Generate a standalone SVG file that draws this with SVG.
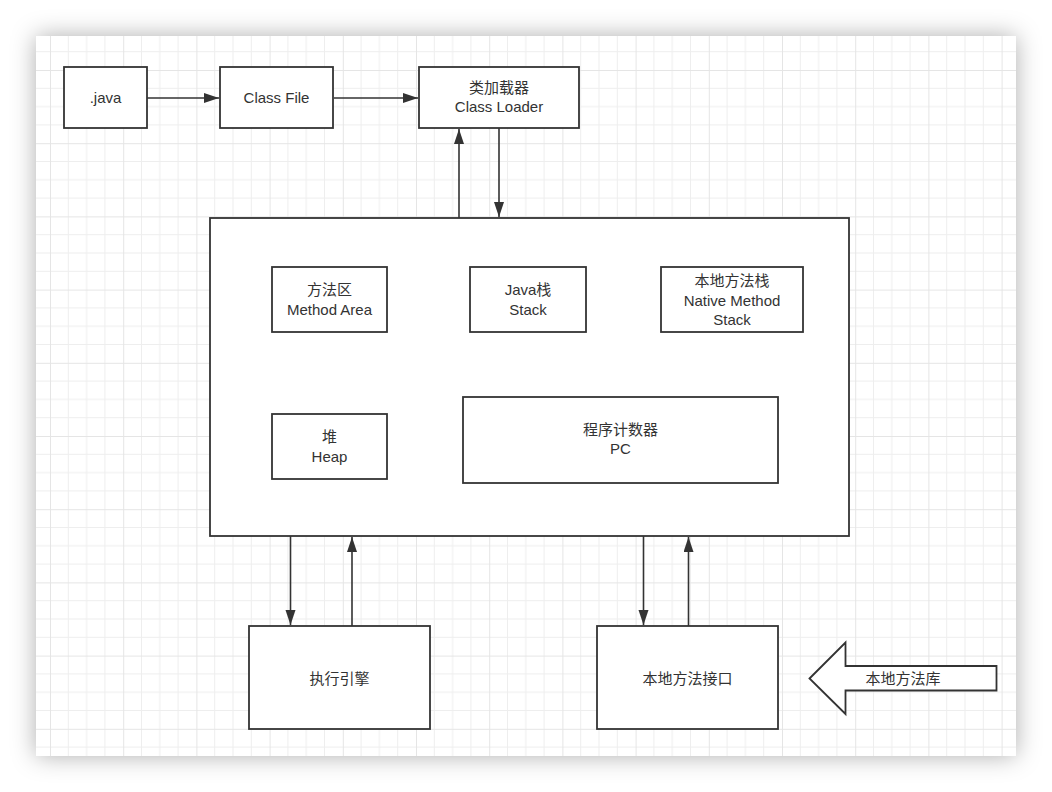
<svg xmlns="http://www.w3.org/2000/svg" width="1052" height="792" viewBox="0 0 1052 792">
<defs>
<style>
.box{fill:#fff;stroke:#333;stroke-width:1.8}
.conn{stroke:#333;stroke-width:1.6;fill:none}
.t{font-family:"Liberation Sans","Noto Sans CJK SC",sans-serif;font-size:15px;fill:#333;text-anchor:middle;dominant-baseline:central}
</style>
<filter id="sh" x="-10%" y="-10%" width="120%" height="120%">
<feDropShadow dx="0" dy="0" stdDeviation="12" flood-color="#000" flood-opacity="0.32"/>
</filter>
<pattern id="grid" patternUnits="userSpaceOnUse" x="50" y="70" width="73.2" height="73.2">
<path d="M18.3 0V73.2M36.6 0V73.2M54.9 0V73.2M0 18.3H73.2M0 36.6H73.2M0 54.9H73.2" stroke="#eeeeee" stroke-width="1"/>
<path d="M0 0V73.2M0 0H73.2" stroke="#e5e5e5" stroke-width="2"/>
</pattern>
<marker id="ah" markerUnits="userSpaceOnUse" markerWidth="16" markerHeight="12" refX="15" refY="5" orient="auto">
<path d="M0,0 L15,5 L0,10 z" fill="#333"/>
</marker>
</defs>
<rect width="1052" height="792" fill="#fff"/>
<rect x="36" y="36" width="980" height="720" fill="#fff" filter="url(#sh)"/>
<rect x="36" y="36" width="980" height="720" fill="url(#grid)"/>

<g id="connectors">
<line class="conn" x1="147" y1="98" x2="219" y2="98" marker-end="url(#ah)"/>
<line class="conn" x1="334" y1="98" x2="418" y2="98" marker-end="url(#ah)"/>
<line class="conn" x1="459" y1="218" x2="459" y2="129" marker-end="url(#ah)"/>
<line class="conn" x1="499" y1="128" x2="499" y2="217" marker-end="url(#ah)"/>
<line class="conn" x1="290.5" y1="536" x2="290.5" y2="625" marker-end="url(#ah)"/>
<line class="conn" x1="352" y1="626" x2="352" y2="537" marker-end="url(#ah)"/>
<line class="conn" x1="643.5" y1="536" x2="643.5" y2="625" marker-end="url(#ah)"/>
<line class="conn" x1="688.5" y1="626" x2="688.5" y2="537" marker-end="url(#ah)"/>
</g>

<g id="java"><rect class="box" x="64" y="67" width="83" height="61"/><text class="t" x="105.5" y="97">.java</text></g>
<g id="classfile"><rect class="box" x="220" y="67" width="113" height="61"/><text class="t" x="276.5" y="97">Class File</text></g>
<g id="classloader"><rect class="box" x="419" y="67" width="160" height="61"/><text class="t" x="499" y="87">类加载器</text><text class="t" x="499" y="106">Class Loader</text></g>

<g id="runtime"><rect class="box" x="210" y="218" width="639" height="318"/></g>
<g id="methodarea"><rect class="box" x="272" y="267" width="115" height="65"/><text class="t" x="329.5" y="289">方法区</text><text class="t" x="329.5" y="309">Method Area</text></g>
<g id="javastack"><rect class="box" x="470" y="267" width="116" height="65"/><text class="t" x="528" y="289">Java栈</text><text class="t" x="528" y="309">Stack</text></g>
<g id="nativestack"><rect class="box" x="661" y="267" width="142" height="65"/><text class="t" x="732" y="280">本地方法栈</text><text class="t" x="732" y="300">Native Method</text><text class="t" x="732" y="319">Stack</text></g>
<g id="heap"><rect class="box" x="272" y="414" width="115" height="65"/><text class="t" x="329.5" y="436">堆</text><text class="t" x="329.5" y="456">Heap</text></g>
<g id="pc"><rect class="box" x="463" y="397" width="315" height="86"/><text class="t" x="620.5" y="429">程序计数器</text><text class="t" x="620.5" y="448">PC</text></g>

<g id="engine"><rect class="box" x="249" y="626" width="181" height="103"/><text class="t" x="339.5" y="678">执行引擎</text></g>
<g id="nativeif"><rect class="box" x="597" y="626" width="181" height="103"/><text class="t" x="687.5" y="678">本地方法接口</text></g>
<g id="nativelib"><path class="box" d="M809.5,678.5 L845.5,642.5 L845.5,666 L996.5,666 L996.5,690.5 L845.5,690.5 L845.5,714 Z"/><text class="t" x="903" y="678">本地方法库</text></g>
</svg>
